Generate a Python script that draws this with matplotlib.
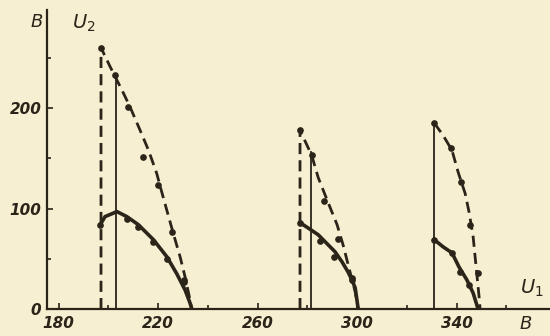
import matplotlib
matplotlib.use("Agg")
import matplotlib.pyplot as plt

# supply voltage U1 (V) vs output voltage U2 (V).
# three ranges; each has a dashed curve, a thick solid curve and a thin marker line

# range 1
dash1_u1 = [197.0, 197.0, 200.7, 205.4, 208.7, 212.7, 216.1, 219.4, 220.8, 223.5, 226.1, 228.8, 230.8, 232.8, 233.5]
dash1_u2 = [0, 260, 241, 218, 201, 178, 158, 135, 122, 98, 75, 52, 32, 9, 0]
dash1_pts_u1 = [197.0, 202.7, 208.0, 214.0, 220.1, 225.5, 230.5]
dash1_pts_u2 = [260, 233, 201, 151, 123, 77, 29]
solid1_u1 = [196.7, 198.6, 203.4, 207.4, 212.0, 218.1, 223.5, 227.5, 230.8, 232.8, 233.5]
solid1_u2 = [84, 92, 97, 92, 84, 69, 52, 35, 19, 6, 0]
solid1_pts_u1 = [196.7, 207.4, 212.0, 218.1, 223.5, 230.5]
solid1_pts_u2 = [84, 90, 82, 67, 50, 27]
vert1_u1 = [203.2, 203.2]
vert1_u2 = [0, 233]

# range 2
dash2_u1 = [277.0, 277.0, 281.7, 284.3, 288.3, 291.9, 294.3, 297.1, 299.2, 300.4]
dash2_u2 = [0, 178, 153, 131, 106, 84, 64, 37, 17, 0]
dash2_pts_u1 = [277.0, 281.7, 286.7, 292.3, 297.9]
dash2_pts_u2 = [178, 153, 108, 70, 31]
solid2_u1 = [277.0, 280.7, 284.3, 287.5, 291.1, 293.9, 296.3, 297.9, 299.2, 300.4]
solid2_u2 = [86, 80, 74, 66, 57, 47, 37, 29, 21, 0]
solid2_pts_u1 = [277.0, 285.1, 290.7, 297.9]
solid2_pts_u2 = [86, 68, 52, 29]
vert2_u1 = [281.5, 281.5]
vert2_u2 = [0, 156]

# range 3
dash3_u1 = [331.0, 334.5, 338.1, 340.6, 343.4, 345.0, 346.6, 347.4, 348.2, 349.0, 349.4]
dash3_u2 = [185, 173, 158, 136, 115, 96, 72, 52, 32, 12, 0]
dash3_pts_u1 = [331.0, 337.7, 341.7, 345.4, 348.6]
dash3_pts_u2 = [185, 160, 126, 84, 36]
solid3_u1 = [331.0, 334.5, 338.1, 340.9, 344.1, 346.6, 348.6]
solid3_u2 = [69, 62, 56, 42, 29, 16, 0]
solid3_pts_u1 = [331.0, 338.1, 341.4, 345.0]
solid3_pts_u2 = [69, 56, 37, 24]
vert3_u1 = [331.0, 331.0]
vert3_u2 = [0, 185]

x_ticks = [180, 220, 260, 300, 340]
y_ticks = [0, 100, 200]

INK = "#2b2419"
PAPER = "#f6efd2"

fig = plt.figure(figsize=(5.5, 3.36), dpi=100, facecolor=PAPER)
ax = fig.add_axes([0.0855, 0.080, 0.9145, 0.89])
ax.set_facecolor(PAPER)

dashed = [(dash1_u1, dash1_u2), (dash2_u1, dash2_u2), (dash3_u1, dash3_u2)]
solid = [(solid1_u1, solid1_u2), (solid2_u1, solid2_u2), (solid3_u1, solid3_u2)]
verts = [(vert1_u1, vert1_u2), (vert2_u1, vert2_u2), (vert3_u1, vert3_u2)]
dots = [(dash1_pts_u1, dash1_pts_u2), (dash2_pts_u1, dash2_pts_u2), (dash3_pts_u1, dash3_pts_u2),
        (solid1_pts_u1, solid1_pts_u2), (solid2_pts_u1, solid2_pts_u2), (solid3_pts_u1, solid3_pts_u2)]

for u1, u2 in dashed:
    ax.plot(u1, u2, color=INK, lw=2.0, ls=(0, (4, 2.2)), solid_capstyle="butt")
for u1, u2 in solid:
    ax.plot(u1, u2, color=INK, lw=2.6, solid_capstyle="round", solid_joinstyle="round")
for u1, u2 in verts:
    ax.plot(u1, u2, color=INK, lw=1.3)
for u1, u2 in dots:
    ax.plot(u1, u2, "o", color=INK, ms=3.8)

ax.set_xlim(175.3, 377.5)
ax.set_ylim(0, 297.5)

for s in ["top", "right"]:
    ax.spines[s].set_visible(False)
for s in ["left", "bottom"]:
    ax.spines[s].set_color(INK)
    ax.spines[s].set_linewidth(1.6)

ax.set_xticks(x_ticks)
ax.set_xticks([200, 240, 280, 320, 360], minor=True)
ax.set_yticks(y_ticks)
ax.set_yticks([50, 150, 250], minor=True)
ax.tick_params(axis="both", which="both", direction="in", color=INK, width=1.2)
ax.tick_params(axis="both", which="major", length=4)
ax.tick_params(axis="both", which="minor", length=3)
ax.tick_params(axis="x", pad=5)
ax.tick_params(axis="y", pad=4)

for lab in ax.get_xticklabels() + ax.get_yticklabels():
    lab.set_fontstyle("italic")
    lab.set_fontsize(11)
    lab.set_color(INK)
    lab.set_fontweight("bold")

fig.text(0.055, 0.92, "B", fontsize=13, style="italic", color=INK)
fig.text(0.13, 0.915, r"$U_2$", fontsize=14, color=INK)
fig.text(0.945, 0.125, r"$U_1$", fontsize=14, color=INK)
fig.text(0.945, 0.02, "B", fontsize=13, style="italic", color=INK)

fig.savefig("out.png", dpi=100, facecolor=PAPER)
